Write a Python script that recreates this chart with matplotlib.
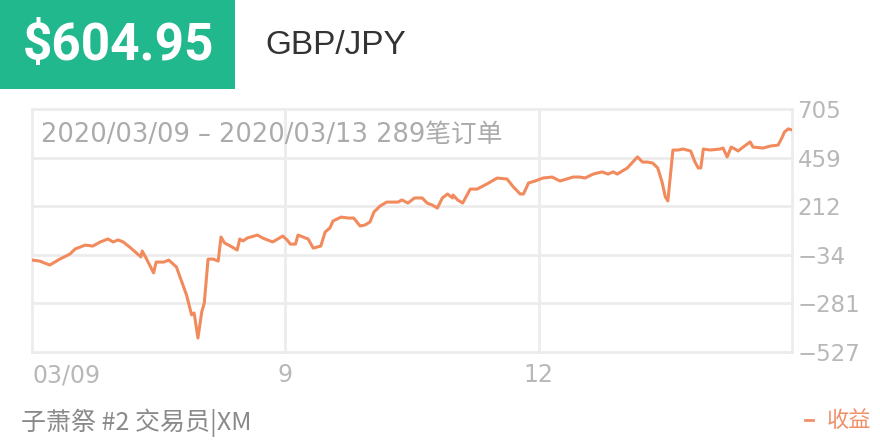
import matplotlib
matplotlib.use("Agg")
import matplotlib.pyplot as plt
from matplotlib.patches import Rectangle
from matplotlib.lines import Line2D

plt.rcParams['font.family'] = ['Noto Sans CJK SC', 'DejaVu Sans']
NUMFONT = ['DejaVu Sans', 'Noto Sans CJK SC']

# ---- data ----
x_pos = [0, 3, 7, 11, 15, 17, 21, 24, 27, 30, 32, 34, 36, 39, 43, 43.5, 45, 48, 49, 52,
         54, 57, 60, 61, 63, 64, 65.5, 67, 68, 69.5, 71.5, 73.5, 74.6, 76, 79, 81, 82, 83.3,
         85, 89, 91, 95, 97, 99, 100.7, 102, 104, 105, 108, 109, 111, 114, 115.7, 117.6,
         118.8, 122, 125, 127, 129.5, 131.5, 133.4, 135, 137.4, 140, 144.5, 146, 148.4, 151,
         154, 156, 158, 160, 162, 164, 166, 166.2, 168, 170, 173, 175.7, 179.6, 183.6, 187.5,
         190, 192.7, 194, 196, 198.6, 201.7, 205.3, 208.4, 211, 213.6, 216.3, 218.3, 221.5,
         225, 227.4, 229.4, 231, 235, 239, 241, 243, 245, 247, 248.7, 250, 251, 253, 255,
         257, 260, 261.7, 263, 264, 265, 267.7, 271.6, 272.8, 274.4, 276, 277.5, 278.7,
         280.7, 283.5, 284.6, 288.6, 291.4, 294.5, 296, 297, 298.5, 300]
profit = [-61, -66, -86, -56, -30, -5, 15, 10, 31, 46, 31, 41, 31, 0, -45, -15, -50, -126, -71, -71,
          -61, -96, -203, -238, -339, -329, -456, -324, -279, -56, -56, -66, 56, 26, 5, -10, 46, 36,
          51, 66, 51, 31, 46, 61, 41, 20, 20, 66, 51, 46, 0, 10, 81, 102,
          137, 157, 152, 152, 112, 117, 132, 183, 213, 233, 233, 244, 228, 254,
          254, 228, 218, 203, 254, 274, 254, 269, 244, 228, 299, 299, 325, 355, 350,
          310, 274, 274, 330, 340, 355, 360, 340, 350, 360, 360, 355, 375,
          386, 375, 386, 375, 406, 462, 436, 436, 431, 406, 335, 259, 239, 497, 497,
          502, 492, 436, 406, 406, 502, 497, 502, 507, 462, 512, 502, 492,
          512, 538, 512, 507, 517, 522, 558, 588, 604, 599]
y_ticks = [705, 459, 212, -34, -281, -527]
y_tick_labels = ["705", "459", "212", "−34", "−281", "−527"]
x_ticks = [0, 100, 200, 300]
x_tick_labels = ["03/09", "9", "12"]
total = "$604.95"
symbol = "GBP/JPY"
range_text = "2020/03/09 – 2020/03/13 289笔订单"
footer_left = "子萧祭 #2 交易员|XM"
legend_label = "收益"

LINE = "#f18a5c"
GRID = "#ececec"
TICK = "#b8b8b8"

fig = plt.figure(figsize=(8.8, 4.4), dpi=100)
ax = fig.add_axes([32 / 880, 88 / 440, 760 / 880, 243 / 440])
ax.set_xlim(0, 300)
ax.set_ylim(-527, 705)
for s in ax.spines.values():
    s.set_visible(False)
for yv in y_ticks:
    ax.axhline(yv, color=GRID, lw=2, zorder=0, clip_on=False)
for xv in x_ticks:
    ax.axvline(xv, color=GRID, lw=2, zorder=0, clip_on=False)
ax.plot(x_pos, profit, color=LINE, lw=2.2, zorder=3, solid_joinstyle="round")

ax.set_yticks(y_ticks)
ax.set_yticklabels(y_tick_labels, family=NUMFONT)
ax.yaxis.tick_right()
ax.tick_params(axis="y", length=0, pad=4, labelsize=16.5, labelcolor=TICK)
ax.set_xticks([])
for xv, lab in zip(x_ticks, x_tick_labels):
    ha = "left" if xv == 0 else "center"
    ax.annotate(lab, xy=(xv, -527), xycoords="data", xytext=(0, -8),
                textcoords="offset points", ha=ha, va="top",
                fontsize=17, color=TICK, family=NUMFONT)

ax.text(9 / 760, 1 - 26 / 243, range_text, transform=ax.transAxes, ha="left",
        va="center", fontsize=18.5, color="#ababab", family=NUMFONT)

# header mask (clips top of top tick label as in reference)
fig.patches.append(Rectangle((0, 1 - 99 / 440), 1, 99 / 440, transform=fig.transFigure,
                             facecolor="white", edgecolor="none", zorder=1))
fig.patches.append(Rectangle((0, 1 - 89 / 440), 235 / 880, 89 / 440, transform=fig.transFigure,
                             facecolor="#22b88d", edgecolor="none", zorder=2))
fig.text(118 / 880, 1 - 46 / 440, total, ha="center", va="center", fontsize=37,
         fontweight="bold", color="white", family=["Roboto", "DejaVu Sans"], zorder=3)
fig.text(265 / 880, 1 - 46 / 440, symbol, ha="left", va="center", fontsize=24,
         color="#333333", family=["Liberation Sans", "DejaVu Sans"], zorder=3)

fig.text(21 / 880, 1 - 423 / 440, footer_left, ha="left", va="center", fontsize=18,
         color="#8a8a8a")
fig.text(871 / 880, 1 - 420 / 440, legend_label, ha="right", va="center", fontsize=16,
         color="#f0906a")
fig.lines.append(Line2D([805 / 880, 813 / 880], [1 - 420 / 440, 1 - 420 / 440],
                        transform=fig.transFigure, color="#f0906a", lw=2))

fig.savefig("out.png", dpi=100)
